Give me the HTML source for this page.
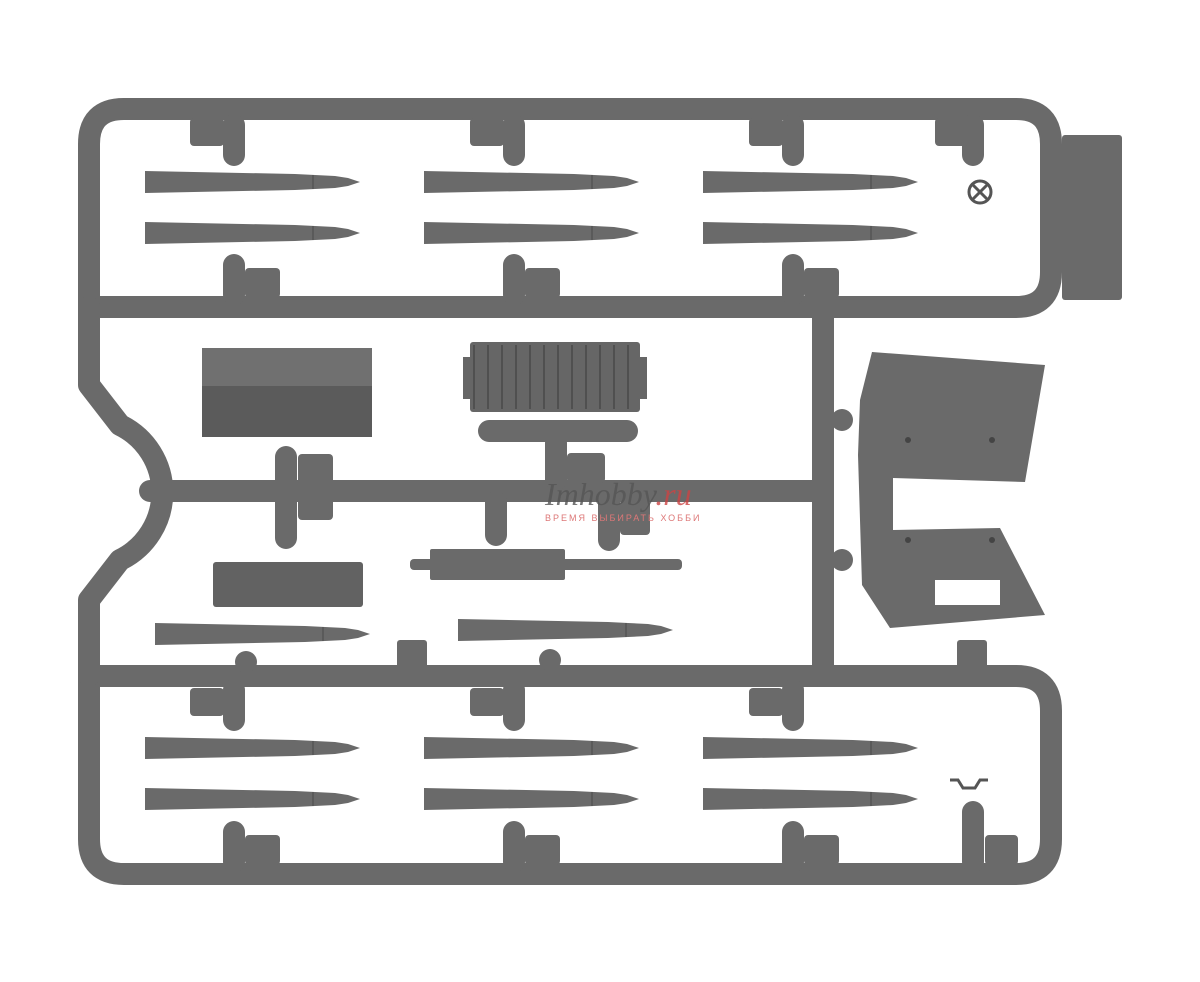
<!DOCTYPE html>
<html><head><meta charset="utf-8"><style>html,body{margin:0;padding:0;background:#fff}svg{display:block}</style></head>
<body>
<svg width="1200" height="982" viewBox="0 0 1200 982" xmlns="http://www.w3.org/2000/svg">
<defs>
<g id="b"><polygon points="0,-11 150,-8 170,-7 190,-6 203,-4 215,0 203,4 190,6 170,7 150,8 0,11" fill="#6a6a6a"/><line x1="168" y1="-7" x2="168" y2="7" stroke="#555" stroke-width="1.5"/></g>
</defs>
<g fill="none" stroke="#6a6a6a" stroke-width="22" stroke-linecap="round" stroke-linejoin="round">
<path d="M89,307 L89,144 Q89,109 124,109 L1016,109 Q1051,109 1051,144 L1051,272 Q1051,307 1016,307 L89,307"/>
<path d="M89,676 L1016,676 Q1051,676 1051,711 L1051,839 Q1051,874 1016,874 L124,874 Q89,874 89,839 L89,676"/>
<path d="M89,307 L89,385 L120,425 A 75 75 0 0 1 120,560 L89,600 L89,676"/>
<path d="M150,491 L822,491"/>
<path d="M823,307 L823,676"/>
<!-- gates -->
<path d="M234,125 L234,155 M514,125 L514,155 M793,125 L793,155 M973,125 L973,155"/>
<path d="M234,265 L234,295 M514,265 L514,295 M793,265 L793,295"/>
<path d="M234,690 L234,720 M514,690 L514,720 M793,690 L793,720"/>
<path d="M234,832 L234,862 M514,832 L514,862 M793,832 L793,862 M973,812 L973,862"/>
<path d="M489,431 L627,431 M556,443 L556,480"/>
<path d="M286,457 L286,538 M496,502 L496,535 M609,502 L609,540"/>
</g>
<g fill="#6a6a6a">
<rect x="190" y="118" width="34" height="28" rx="4"/><rect x="470" y="118" width="34" height="28" rx="4"/><rect x="749" y="118" width="34" height="28" rx="4"/><rect x="935" y="118" width="34" height="28" rx="4"/>
<rect x="245" y="268" width="35" height="30" rx="4"/><rect x="525" y="268" width="35" height="30" rx="4"/><rect x="804" y="268" width="35" height="30" rx="4"/>
<rect x="190" y="688" width="34" height="28" rx="4"/><rect x="470" y="688" width="34" height="28" rx="4"/><rect x="749" y="688" width="34" height="28" rx="4"/>
<rect x="245" y="835" width="35" height="30" rx="4"/><rect x="525" y="835" width="35" height="30" rx="4"/><rect x="804" y="835" width="35" height="30" rx="4"/><rect x="985" y="835" width="33" height="30" rx="4"/>
<rect x="1062" y="135" width="60" height="165" rx="3"/>
<rect x="298" y="454" width="35" height="66" rx="4"/><rect x="567" y="453" width="38" height="30" rx="4"/><rect x="620" y="500" width="30" height="35" rx="4"/>
<rect x="397" y="640" width="30" height="28" rx="3"/><rect x="957" y="640" width="30" height="28" rx="3"/>
<circle cx="246" cy="662" r="11"/><circle cx="550" cy="660" r="11"/>
<circle cx="842" cy="420" r="11"/><circle cx="842" cy="560" r="11"/>
<rect x="202" y="348" width="170" height="40" fill="#707070"/><rect x="202" y="386" width="170" height="51" fill="#5b5b5b"/>
<rect x="470" y="342" width="170" height="70" rx="3" fill="#666"/><rect x="463" y="357" width="184" height="42" fill="#666"/>
<rect x="213" y="562" width="150" height="45" rx="3" fill="#626262"/>
<rect x="410" y="559" width="272" height="11" rx="4"/><rect x="430" y="549" width="135" height="31" rx="2"/>
<path d="M872,352 L1045,365 L1025,482 L893,478 L893,530 L1000,528 L1045,615 L890,628 L862,585 L858,455 L860,400 Z"/>
</g>
<g stroke="#505050" stroke-width="2">
<path d="M474,345 v64 M488,345 v64 M502,345 v64 M516,345 v64 M530,345 v64 M544,345 v64 M558,345 v64 M572,345 v64 M586,345 v64 M600,345 v64 M614,345 v64 M628,345 v64"/>
</g>
<rect x="935" y="580" width="65" height="25" fill="#fff"/>
<g fill="#444"><circle cx="908" cy="440" r="3"/><circle cx="992" cy="440" r="3"/><circle cx="908" cy="540" r="3"/><circle cx="992" cy="540" r="3"/></g>
<circle cx="980" cy="192" r="11" fill="none" stroke="#555" stroke-width="3"/>
<path d="M973,185 L987,199 M987,185 L973,199" stroke="#555" stroke-width="3"/>
<path d="M950,780 h8 l5,8 h12 l5,-8 h8" fill="none" stroke="#555" stroke-width="3"/>
<g>
<use href="#b" x="145" y="182"/><use href="#b" x="145" y="233"/>
<use href="#b" x="424" y="182"/><use href="#b" x="424" y="233"/>
<use href="#b" x="703" y="182"/><use href="#b" x="703" y="233"/>
<use href="#b" x="145" y="748"/><use href="#b" x="145" y="799"/>
<use href="#b" x="424" y="748"/><use href="#b" x="424" y="799"/>
<use href="#b" x="703" y="748"/><use href="#b" x="703" y="799"/>
<use href="#b" x="155" y="634"/><use href="#b" x="458" y="630"/>
</g>
<text x="545" y="505" font-family="Liberation Serif, serif" font-style="italic" font-size="32" fill="#555" opacity="0.8">Imhobby<tspan fill="#c44">.ru</tspan></text>
<text x="545" y="521" font-family="Liberation Sans, sans-serif" font-size="9" letter-spacing="2" fill="#d77">ВРЕМЯ ВЫБИРАТЬ    ХОББИ</text>
</svg>
</body></html>
